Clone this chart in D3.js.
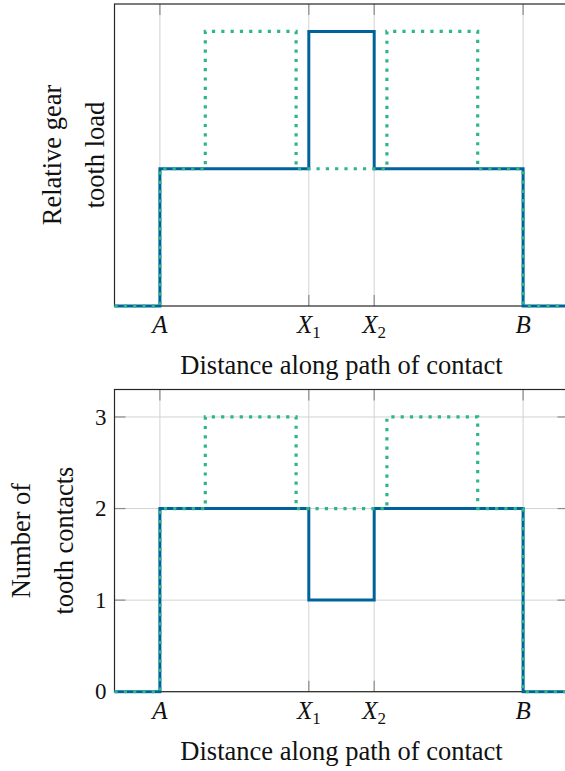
<!DOCTYPE html>
<html>
<head>
<meta charset="utf-8">
<script src="https://cdn.jsdelivr.net/npm/d3@7"></script>
<style>
  html, body { margin: 0; padding: 0; background: #fff; }
  svg { display: block; }
</style>
</head>
<body>
<svg id="chart" width="565" height="771" font-family="'Liberation Serif', 'Times New Roman', Times, serif"></svg>
<script>
// Positions along the path of contact (A = 0, B = 1)
const xDomain = [-0.125, 1.125];
const markerNames = ["A", "X1", "X2", "B"];
const markerPositions = [0, 0.41, 0.59, 1];

// Contact ratio between 1 and 2 (solid blue)
const lowRatioX = [-0.125, 0, 0.41, 0.59, 1, 1.125];
const lowRatioContacts = [0, 2, 1, 2, 0, 0];
const lowRatioLoad = [0, 0.5, 1, 0.5, 0, 0];

// Contact ratio above 2 (dotted green)
const highRatioX = [-0.125, 0, 0.125, 0.375, 0.625, 0.875, 1, 1.125];
const highRatioContacts = [0, 2, 3, 2, 3, 2, 0, 0];
const highRatioLoad = [0, 0.5, 1, 0.5, 1, 0.5, 0, 0];

const contactTicks = [0, 1, 2, 3];

const blue = "#00629b";
const green = "#2eb58c";
const serif = "'Liberation Serif', 'Times New Roman', Times, serif";

const svg = d3.select("#chart");
svg.append("rect").attr("width", 565).attr("height", 771).attr("fill", "#fff");

const left = 114.5, right = 568.5;
const x = d3.scaleLinear().domain(xDomain).range([left, right]);

function panel(cfg) {
  const g = svg.append("g").attr("font-family", serif).attr("fill", "#111");
  const y = d3.scaleLinear().domain(cfg.yDomain).range([cfg.bottom, cfg.top]);

  const clipId = "clip" + cfg.id;
  svg.append("clipPath").attr("id", clipId)
    .append("rect").attr("x", left - 2).attr("y", cfg.top - 2)
    .attr("width", right - left + 4).attr("height", cfg.bottom - cfg.top + 4);

  // vertical grid at A, X1, X2, B
  g.append("g").selectAll("line").data(markerPositions).join("line")
    .attr("x1", d => x(d)).attr("x2", d => x(d))
    .attr("y1", cfg.top).attr("y2", cfg.bottom)
    .attr("stroke", "#d2d2d2").attr("stroke-width", 1);

  // horizontal grid, ticks and labels for contact counts
  if (cfg.yTicks) {
    g.append("g").selectAll("line").data(cfg.yTicks).join("line")
      .attr("x1", left).attr("x2", right)
      .attr("y1", d => y(d)).attr("y2", d => y(d))
      .attr("stroke", "#d2d2d2").attr("stroke-width", 1);
    g.append("g").selectAll("line").data(cfg.yTicks).join("line")
      .attr("x1", left).attr("x2", left + 11)
      .attr("y1", d => y(d)).attr("y2", d => y(d))
      .attr("stroke", "#8c8c8c").attr("stroke-width", 1.2);
    g.append("g").selectAll("line").data(cfg.yTicks).join("line")
      .attr("x1", right - 11).attr("x2", right)
      .attr("y1", d => y(d)).attr("y2", d => y(d))
      .attr("stroke", "#8c8c8c").attr("stroke-width", 1.2);
    g.append("g").selectAll("text").data(cfg.yTicks).join("text")
      .attr("x", left - 8).attr("y", d => y(d)).attr("dy", "0.33em")
      .attr("text-anchor", "end").attr("font-size", 23)
      .text(d => d);
  }

  // inward x ticks at top and bottom
  g.append("g").selectAll("line").data(markerPositions).join("line")
    .attr("x1", d => x(d)).attr("x2", d => x(d))
    .attr("y1", cfg.top).attr("y2", cfg.top + 11)
    .attr("stroke", "#8c8c8c").attr("stroke-width", 1.2);
  g.append("g").selectAll("line").data(markerPositions).join("line")
    .attr("x1", d => x(d)).attr("x2", d => x(d))
    .attr("y1", cfg.bottom - 11).attr("y2", cfg.bottom)
    .attr("stroke", "#8c8c8c").attr("stroke-width", 1.2);

  // frame
  g.append("rect")
    .attr("x", left).attr("y", cfg.top)
    .attr("width", right - left).attr("height", cfg.bottom - cfg.top)
    .attr("fill", "none").attr("stroke", "#262626").attr("stroke-width", 1.2);

  const line = d3.line().curve(d3.curveStepAfter)
    .x(d => x(d[0])).y(d => y(d[1]));

  const plot = g.append("g").attr("clip-path", `url(#${clipId})`);
  plot.append("path")
    .datum(d3.zip(lowRatioX, cfg.low))
    .attr("d", line)
    .attr("fill", "none").attr("stroke", blue)
    .attr("stroke-width", 3).attr("stroke-linejoin", "miter");
  plot.append("path")
    .datum(d3.zip(highRatioX, cfg.high))
    .attr("d", line)
    .attr("fill", "none").attr("stroke", green)
    .attr("stroke-width", 3.2).attr("stroke-dasharray", "3.2 6.1");

  // x tick labels (italic letters, upright subscripts)
  const labels = g.append("g").selectAll("text").data(markerNames).join("text")
    .attr("x", (d, i) => x(markerPositions[i]))
    .attr("y", cfg.bottom + 27)
    .attr("text-anchor", "middle")
    .attr("font-size", 25)
    .attr("font-style", "italic");
  labels.each(function (d) {
    const t = d3.select(this);
    t.append("tspan").text(d[0]);
    if (d.length > 1) {
      t.append("tspan").attr("font-style", "normal").attr("font-size", 17)
        .attr("dy", 5).text(d.slice(1));
    }
  });

  // x axis title
  g.append("text")
    .attr("x", (left + right) / 2).attr("y", cfg.bottom + 68)
    .attr("text-anchor", "middle").attr("font-size", 26.5)
    .text("Distance along path of contact");

  // y axis title, two centred lines
  const cy = (cfg.top + cfg.bottom) / 2;
  cfg.yTitle.forEach((s, i) => {
    g.append("text")
      .attr("transform", `translate(${cfg.yTitleX[i]},${cy}) rotate(-90)`)
      .attr("text-anchor", "middle").attr("font-size", 26.5)
      .text(s);
  });
}

panel({
  id: "load", top: 4, bottom: 306, yDomain: [0, 1.1],
  low: lowRatioLoad, high: highRatioLoad,
  yTitle: ["Relative gear", "tooth load"], yTitleX: [61, 104]
});

panel({
  id: "contacts", top: 389.5, bottom: 691.7, yDomain: [0, 3.3],
  low: lowRatioContacts, high: highRatioContacts, yTicks: contactTicks,
  yTitle: ["Number of", "tooth contacts"], yTitleX: [30, 73]
});
</script>
</body>
</html>
